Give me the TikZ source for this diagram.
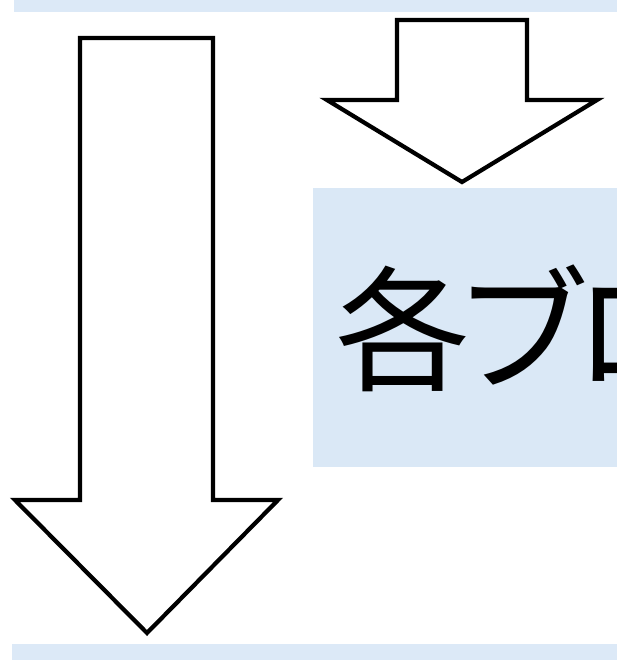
\documentclass[tikz,border=0pt]{standalone}
\usepackage{fontspec}
\usetikzlibrary{positioning}
\newfontfamily\jpfont{Noto Sans CJK JP}
\definecolor{band}{HTML}{DCE9F7}
\definecolor{boxfill}{HTML}{DAE8F6}
\tikzset{blockarrow/.style={draw=black,fill=white,line width=3pt,line join=miter},
 bandbox/.style={fill=band,draw=none},
 blockbox/.style={fill=boxfill,draw=none,anchor=north west,inner xsep=0.55cm,inner ysep=0pt,
 minimum width=10cm,minimum height=6.975cm,text width=8.9cm,align=left,
 font=\jpfont\fontsize{96}{96}\selectfont}}
\begin{document}
\begin{tikzpicture}[x=0.025cm,y=-0.025cm]
\clip (0,0) rectangle (617,660);
\fill[white] (0,0) rectangle (617,660);
% bands cut by the frame
\path[bandbox] (14,-10) rectangle (640,12);
\path[bandbox] (12,644) rectangle (640,670);
% block
\node[blockbox] (block) at (313,188) {各\kern-0.12em ブ\kern-0.12em ロ};
% arrows
\draw[blockarrow] (80,38) -- (213,38) -- (213,500) -- (278,500) -- (147,633) -- (15,500) -- (80,500) -- cycle;
\draw[blockarrow] (397,20) -- (527,20) -- (527,100) -- (597,100) -- (462,182) -- (327,100) -- (397,100) -- cycle;
\end{tikzpicture}
\end{document}
